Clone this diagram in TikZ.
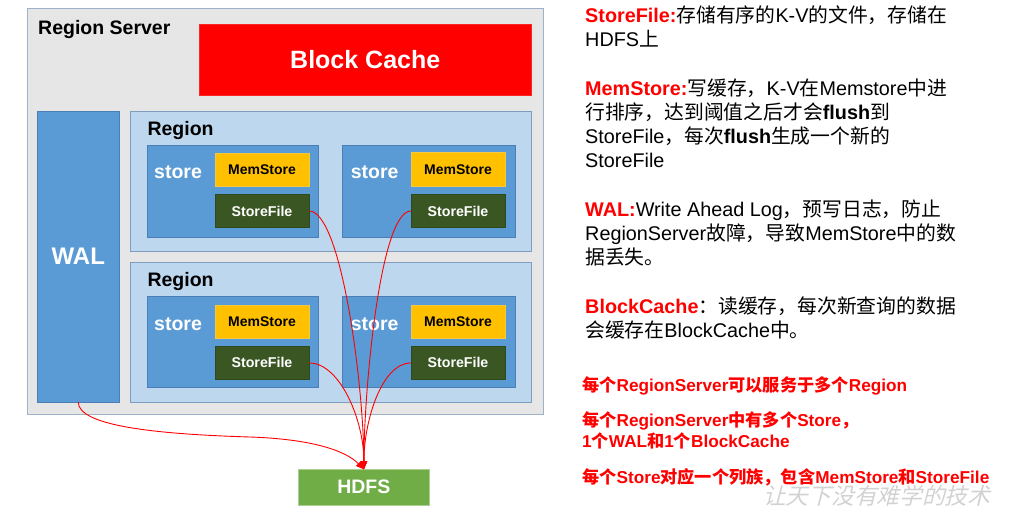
\documentclass[tikz,border=0pt]{standalone}
\usepackage{fontspec}
\setmainfont{Liberation Sans}
\newfontfamily\cjk{Noto Sans CJK SC}
\newfontfamily\wmfont[FakeSlant=0.25]{Noto Sans CJK SC}
\usetikzlibrary{arrows.meta}
\newcommand\zh[1]{{\cjk #1}}
\definecolor{rsfill}{HTML}{E6E6E6}
\definecolor{rsline}{HTML}{9DB2CA}
\definecolor{regfill}{HTML}{BDD7EE}
\definecolor{regline}{HTML}{7E9DC0}
\definecolor{stfill}{HTML}{5B9BD5}
\definecolor{stline}{HTML}{4A7EB5}
\definecolor{msfill}{HTML}{FFC000}
\definecolor{msline}{HTML}{F5C842}
\definecolor{sffill}{HTML}{3A5723}
\definecolor{sfline}{HTML}{2E4A1C}
\definecolor{hdfill}{HTML}{70AD47}
\definecolor{hdline}{HTML}{A9D08E}
\definecolor{bcred}{HTML}{FF0000}
\definecolor{wmgray}{HTML}{D2D2D2}
\begin{document}
\begin{tikzpicture}[x=1pt,y=-1pt,
  box/.style={inner sep=0pt, outer sep=0pt, anchor=north west, line width=0.8pt},
  rsbox/.style={box, fill=rsfill, draw=rsline, line width=1pt},
  bcbox/.style={box, fill=bcred, draw=bcred!85!white, text=white,
    font=\fontsize{25}{25}\selectfont\bfseries},
  regbox/.style={box, fill=regfill, draw=regline},
  stbox/.style={box, fill=stfill, draw=stline},
  walbox/.style={box, fill=stfill, draw=stline, text=white,
    font=\fontsize{24}{24}\selectfont\bfseries},
  msbox/.style={box, fill=msfill, draw=msline, text=black,
    font=\fontsize{14}{14}\selectfont\bfseries},
  sfbox/.style={box, fill=sffill, draw=sfline, text=white,
    font=\fontsize{14.2}{14.2}\selectfont\bfseries},
  hdbox/.style={box, fill=hdfill, draw=hdline, text=white,
    font=\fontsize{19.5}{19.5}\selectfont\bfseries},
  lbl/.style={inner sep=0pt, anchor=base west, font=\fontsize{19.5}{19.5}\selectfont\bfseries},
  stlbl/.style={lbl, text=white},
  arr/.style={draw=red, line width=0.9pt, -{Triangle[length=8pt,width=6.5pt]}},
  note/.style={inner sep=0pt, anchor=base west, font=\fontsize{19.8}{24}\selectfont},
  rednote/.style={inner sep=0pt, anchor=base west, text=red,
    font=\fontsize{17.2}{20}\selectfont\bfseries}]
\useasboundingbox (0,0) rectangle (1022,529);

% Region server
\node[rsbox, minimum width=516, minimum height=405] (rs) at (27,9) {};
\node[lbl, text=black] (rslbl) at (38,35) {Region Server};
\node[bcbox, minimum width=332.5, minimum height=71.5] (bc) at (199,24) {Block Cache};
\node[walbox, minimum width=82.5, minimum height=291] (wal) at (37,111) {WAL};

% Regions
\node[regbox, minimum width=401.5, minimum height=140] (reg1) at (130,111) {};
\node[lbl, text=black] (reg1lbl) at (147.3,136) {Region};
\node[regbox, minimum width=401.5, minimum height=140] (reg2) at (130,262) {};
\node[lbl, text=black] (reg2lbl) at (147.3,286.7) {Region};

% Stores
\node[stbox, minimum width=171.3, minimum height=92.7] (st1) at (147,145) {};
\node[stbox, minimum width=172.3, minimum height=92.7] (st2) at (342.7,145) {};
\node[stbox, minimum width=171.3, minimum height=91.7] (st3) at (147,296) {};
\node[stbox, minimum width=172.3, minimum height=91.7] (st4) at (342.7,296) {};
\node[stlbl] (st1lbl) at (154,179) {store};
\node[stlbl] (st2lbl) at (350.7,179) {store};
\node[stlbl] (st3lbl) at (154,330) {store};
\node[stlbl] (st4lbl) at (350.7,330) {store};

% MemStores and StoreFiles
\node[msbox, minimum width=94, minimum height=33.4] (ms1) at (215,153.3) {MemStore};
\node[msbox, minimum width=94, minimum height=33.4] (ms2) at (411,152.7) {MemStore};
\node[msbox, minimum width=94, minimum height=33.7] (ms3) at (215,305) {MemStore};
\node[msbox, minimum width=94, minimum height=33.7] (ms4) at (411,305) {MemStore};
\node[sfbox, minimum width=94, minimum height=33.4] (sf1) at (215,194.3) {StoreFile};
\node[sfbox, minimum width=94, minimum height=33.4] (sf2) at (411,194.3) {StoreFile};
\node[sfbox, minimum width=94, minimum height=33.7] (sf3) at (215,346) {StoreFile};
\node[sfbox, minimum width=94, minimum height=33.7] (sf4) at (411,346) {StoreFile};

% HDFS
\node[hdbox, minimum width=130.3, minimum height=35.7] (hdfs) at (298.7,469.3) {HDFS};

% Connectors
\draw[arr] (sf1.east) .. controls (342,211) and (364,390) .. (hdfs.north);
\draw[arr] (sf2.west) .. controls (380,211) and (364,390) .. (hdfs.north);
\draw[arr] (sf3.east) .. controls (340,363) and (364,420) .. (hdfs.north);
\draw[arr] (sf4.west) .. controls (382,363) and (364,420) .. (hdfs.north);
\draw[arr] (wal.south) .. controls (78,425) and (150,434) .. (250,437)
  .. controls (310,439) and (345,450) .. (hdfs.north);

% Notes
\node[note] (n1) at (585,22.7) {{\bfseries\color{red}StoreFile:}\zh{存储有序的}K-V\zh{的文件，存储在}};
\node[note] (n2) at (585,46.7) {HDFS\zh{上}};
\node[note] (n3) at (585,95.7) {{\bfseries\color{red}MemStore:}\zh{写缓存，}K-V\zh{在}Memstore\zh{中进}};
\node[note] (n4) at (585,119.7) {\zh{行排序，达到阈值之后才会}\textbf{flush}\zh{到}};
\node[note] (n5) at (585,143.7) {StoreFile\zh{，每次}\textbf{flush}\zh{生成一个新的}};
\node[note] (n6) at (585,167.7) {StoreFile};
\node[note] (n7) at (585,216.7) {{\bfseries\color{red}WAL:}Write Ahead Log\zh{，预写日志，防止}};
\node[note] (n8) at (585,241) {RegionServer\zh{故障，导致}MemStore\zh{中的数}};
\node[note] (n9) at (585,265) {\zh{据丢失。}};
\node[note] (n10) at (585,313.3) {{\bfseries\color{red}BlockCache}\zh{：读缓存，每次新查询的数据}};
\node[note] (n11) at (585,337.3) {\zh{会缓存在}BlockCache\zh{中。}};

\node[rednote] (r1) at (582,391.7) {\zh{每个}RegionServer\zh{可以服务于多个}Region};
\node[rednote] (r2) at (582,426.7) {\zh{每个}RegionServer\zh{中有多个}Store\zh{，}};
\node[rednote] (r3) at (582,447.3) {1\zh{个}WAL\zh{和}1\zh{个}BlockCache};
\node[rednote] (r4) at (582,483.3) {\zh{每个}Store\zh{对应一个列族，包含}MemStore\zh{和}StoreFile};

\node[inner sep=0pt, anchor=west, text=wmgray, font=\fontsize{22.7}{22.7}\wmfont] (wm) at (763,496) {让天下没有难学的技术};
\end{tikzpicture}
\end{document}
